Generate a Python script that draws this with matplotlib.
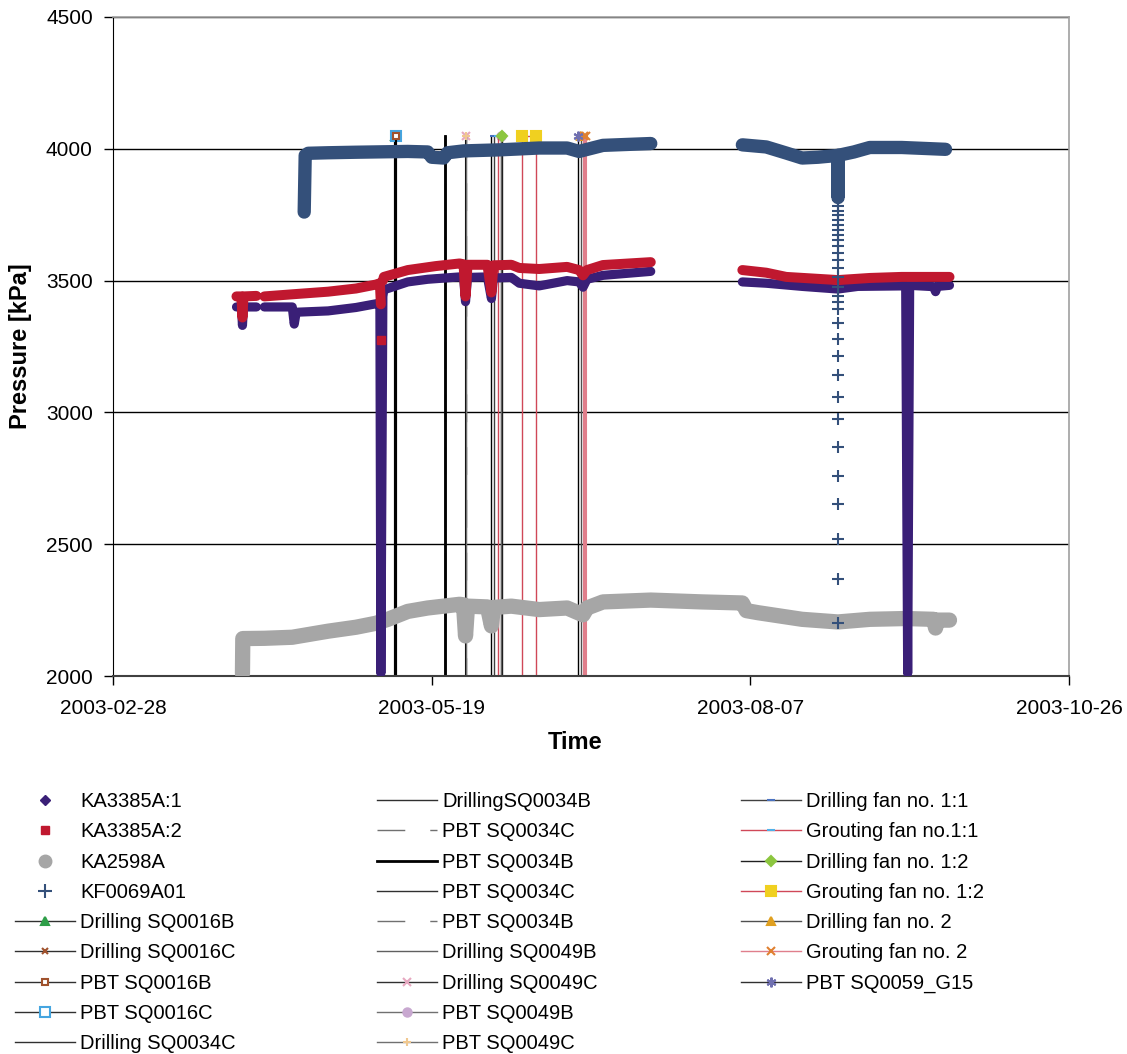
import numpy as np
import pandas as pd
import matplotlib
matplotlib.use("Agg")
import matplotlib.pyplot as plt
import matplotlib.dates as mdates
from matplotlib.lines import Line2D

plt.rcParams['font.family'] = ['Liberation Sans', 'DejaVu Sans']

nan = np.nan

# =========================
# Pressure series (kPa)
# =========================
ka1_time = ['2003-03-31', '2003-04-01 06:00', '2003-04-01 12:00', '2003-04-01 18:00', '2003-04-05', '2003-04-06',
            '2003-04-07', '2003-04-14', '2003-04-14 12:00', '2003-04-15', '2003-04-23', '2003-04-30',
            '2003-05-05', '2003-05-06', '2003-05-06 06:00', '2003-05-06 18:00', '2003-05-07', '2003-05-13',
            '2003-05-18', '2003-05-26', '2003-05-27', '2003-05-27 12:00', '2003-05-28', '2003-06-02',
            '2003-06-03', '2003-06-03 12:00', '2003-06-08', '2003-06-10', '2003-06-15', '2003-06-22',
            '2003-06-25', '2003-06-26', '2003-06-27', '2003-07-01', '2003-07-13', '2003-07-20',
            '2003-08-05', '2003-08-11', '2003-08-20', '2003-08-29', '2003-09-03', '2003-09-15',
            '2003-09-15 12:00', '2003-09-16', '2003-09-22', '2003-09-22 12:00', '2003-09-23', '2003-09-26']
ka1_kpa = [3400, 3400, 3330, 3400, 3400, nan,
           3400, 3400, 3335, 3380, 3385, 3398,
           3412, 3415, 2010, 3440, 3465, 3495,
           3505, 3514, 3514, 3420, 3512, 3514,
           3432, 3510, 3512, 3490, 3480, 3500,
           3495, 3475, 3505, 3520, 3535, nan,
           3495, 3490, 3478, 3468, 3478, 3480,
           2010, 3482, 3477, 3458, 3478, 3482]

ka2_time = ['2003-03-31', '2003-04-01 06:00', '2003-04-01 12:00', '2003-04-01 18:00', '2003-04-05', '2003-04-06',
            '2003-04-07', '2003-04-14', '2003-04-23', '2003-04-30', '2003-05-05', '2003-05-06',
            '2003-05-06 06:00', '2003-05-06 07:00', '2003-05-06 08:00', '2003-05-06 09:00', '2003-05-06 18:00',
            '2003-05-07', '2003-05-13', '2003-05-20', '2003-05-26', '2003-05-27', '2003-05-27 12:00',
            '2003-05-28', '2003-06-02', '2003-06-03', '2003-06-03 12:00', '2003-06-08', '2003-06-10',
            '2003-06-15', '2003-06-22', '2003-06-25', '2003-06-26', '2003-06-27', '2003-07-01',
            '2003-07-13', '2003-07-20',
            '2003-08-05', '2003-08-11', '2003-08-16', '2003-08-29', '2003-09-06', '2003-09-14', '2003-09-26']
ka2_kpa = [3440, 3440, 3360, 3440, 3442, nan,
           3440, 3448, 3458, 3470, 3485, 3490,
           3410, nan, 3275, nan, 3500,
           3514, 3540, 3555, 3565, 3562, 3440,
           3560, 3560, 3455, 3558, 3560, 3548,
           3544, 3552, 3540, 3520, 3540, 3559,
           3570, nan,
           3540, 3530, 3514, 3502, 3510, 3514, 3514]

ka2598_time = ['2003-04-01 12:00', '2003-04-01 14:00', '2003-04-07', '2003-04-14', '2003-04-23', '2003-04-30',
               '2003-05-05', '2003-05-08', '2003-05-13', '2003-05-18', '2003-05-26', '2003-05-27',
               '2003-05-27 12:00', '2003-05-28', '2003-06-02', '2003-06-03', '2003-06-03 12:00', '2003-06-08',
               '2003-06-15', '2003-06-22', '2003-06-26', '2003-06-27', '2003-07-01', '2003-07-13',
               '2003-07-26', '2003-08-05', '2003-08-06', '2003-08-09', '2003-08-20', '2003-08-29',
               '2003-09-06', '2003-09-15', '2003-09-22', '2003-09-22 12:00', '2003-09-23', '2003-09-26']
ka2598_kpa = [2010, 2142, 2143, 2147, 2170, 2185,
              2200, 2215, 2245, 2258, 2272, 2270,
              2152, 2265, 2262, 2190, 2260, 2265,
              2252, 2258, 2232, 2258, 2281, 2288,
              2281, 2277, 2248, 2240, 2215, 2205,
              2215, 2218, 2215, 2182, 2212, 2212]

kf_time = ['2003-04-17', '2003-04-17 06:00', '2003-04-18', '2003-04-23', '2003-04-30', '2003-05-13',
           '2003-05-18', '2003-05-19', '2003-05-22', '2003-05-23', '2003-05-27', '2003-06-05',
           '2003-06-15', '2003-06-22', '2003-06-25', '2003-07-01', '2003-07-13', '2003-07-20',
           '2003-08-05', '2003-08-11', '2003-08-16', '2003-08-20', '2003-08-24', '2003-08-29',
           '2003-08-29 00:30', '2003-08-29 01:00', '2003-09-02', '2003-09-06', '2003-09-14', '2003-09-25']
kf_kpa = [3760, 3975, 3983, 3985, 3987, 3990,
          3988, 3968, 3965, 3985, 3992, 3996,
          4003, 4003, 3990, 4013, 4020, nan,
          4015, 4007, 3984, 3965, 3968, 3975,
          3815, 3975, 3988, 4005, 4005, 3998]

# scattered readings during the pressure drop on 2003-08-29
kf_drop_time = '2003-08-29'
kf_drop_kpa = [3806, 3783, 3764, 3748, 3730, 3711, 3692, 3673, 3654, 3631, 3605, 3578, 3548, 3514,
               3476, 3442, 3417, 3391, 3339, 3279, 3214, 3142, 3059, 2975, 2869, 2759, 2653, 2520,
               2368, 2201]

# =========================
# Activities (drawn as vertical markers)
# =========================
event_top = 4050
event_names = ['Drilling SQ0016B', 'Drilling SQ0016C', 'PBT SQ0016B', 'PBT SQ0016C', 'Drilling SQ0034C',
               'DrillingSQ0034B', 'PBT SQ0034C', 'PBT SQ0034B', 'PBT SQ0034C', 'PBT SQ0034B',
               'Drilling SQ0049B', 'Drilling SQ0049C', 'PBT SQ0049B', 'PBT SQ0049C',
               'Drilling fan no. 1:1', 'Grouting fan no.1:1', 'Drilling fan no. 1:2', 'Grouting fan no. 1:2',
               'Drilling fan no. 2', 'Grouting fan no. 2', 'PBT SQ0059_G15']
event_times = [['2003-05-09 18:00'], ['2003-05-09 18:00'], ['2003-05-10'], ['2003-05-10'], ['2003-05-22 08:00'],
               ['2003-05-22 08:00'], ['2003-05-22 08:00'], ['2003-05-22 08:00'], ['2003-06-02 21:00'],
               ['2003-05-27 14:00'],
               ['2003-06-05 08:00'], ['2003-05-27 14:00'], ['2003-06-05 12:00'], ['2003-05-27 14:00'],
               ['2003-06-03 15:00'], ['2003-06-04 15:00'], ['2003-06-05 17:00'],
               ['2003-06-10 17:00', '2003-06-14 05:00'],
               ['2003-06-25 12:00'], ['2003-06-26 05:00', '2003-06-26 20:00'], ['2003-06-24 17:00']]

# line colour, width, style, marker, marker edge, marker face, marker size, z-order
event_styles = [
    ('#000000', 1.5, '-', '^', '#2e9e48', '#2e9e48', 6, 2.0),
    ('#000000', 1.5, '-', 'x', '#a0522d', '#a0522d', 5, 2.0),
    ('#000000', 1.5, '-', 's', '#a0522d', 'white', 4, 2.2),
    ('#000000', 1.5, '-', 's', '#45a5e0', 'white', 6.5, 2.1),
    ('#000000', 1.0, '-', 'None', 'k', 'k', 0, 2.0),
    ('#000000', 1.0, '-', 'None', 'k', 'k', 0, 2.0),
    ('#707070', 1.0, (0, (20, 18)), 'None', 'k', 'k', 0, 1.9),
    ('#000000', 2.0, '-', 'None', 'k', 'k', 0, 2.0),
    ('#000000', 1.0, '-', 'None', 'k', 'k', 0, 2.0),
    ('#707070', 1.0, (0, (20, 18)), 'None', 'k', 'k', 0, 1.9),
    ('#606060', 1.0, '-', 'None', 'k', 'k', 0, 2.0),
    ('#000000', 1.5, '-', 'x', '#e6a8c0', '#e6a8c0', 6, 2.0),
    ('#707070', 1.0, '-', 'o', '#c8a8d0', '#c8a8d0', 6, 2.0),
    ('#707070', 1.0, '-', '+', '#f0c890', '#f0c890', 6, 2.0),
    ('#404040', 1.0, '-', '_', '#4a72c0', '#4a72c0', 6, 2.0),
    ('#d04858', 1.0, '-', '_', '#50b0e8', '#50b0e8', 6, 2.0),
    ('#202020', 1.0, '-', 'D', '#8cc63f', '#8cc63f', 5.5, 2.0),
    ('#d04858', 1.0, '-', 's', '#f0d020', '#f0d020', 6.5, 2.0),
    ('#505050', 1.0, '-', '^', '#e0a020', '#e0a020', 6, 2.0),
    ('#e07f8c', 1.5, '-', 'x', '#e08030', '#e08030', 6, 2.0),
    ('#000000', 1.0, '-', (6, 2, 0), '#7070b0', '#7070b0', 7, 2.0),
]


def t(values):
    return pd.to_datetime(values, format='ISO8601')


# =========================
# Figure
# =========================
fig = plt.figure(figsize=(11.27, 10.54), dpi=100)
ax = fig.add_axes([113 / 1127, 1 - 676 / 1054, 956 / 1127, 659 / 1054])

band = dict(solid_capstyle='round', solid_joinstyle='round')
ax.plot(t(ka2598_time), ka2598_kpa, color='#a6a6a6', lw=11, zorder=3, **band)
ax.plot(t(ka1_time), ka1_kpa, color='#3a1f77', lw=6.6, zorder=4, **band)
ax.plot(t(ka2_time), ka2_kpa, color='#c0182f', lw=7.2, marker='s', ms=6, markevery=[14],
        zorder=5, **band)
ax.plot(t(kf_time), kf_kpa, color='#34507a', lw=9.6, zorder=6, **band)
ax.plot(t([kf_drop_time] * len(kf_drop_kpa)), kf_drop_kpa, ls='none', color='#34507a',
        marker='+', ms=8.5, mew=1.5, zorder=6)

event_lines = []
for name, times, st in zip(event_names, event_times, event_styles):
    lc, lw, ls, mk, mec, mfc, ms, z = st
    if len(times) == 1:
        xs = [times[0], times[0]]
        ys = [0, event_top]
    else:
        xs = [times[0], times[0], times[1], times[1]]
        ys = [0, event_top, event_top, 0]
    ln, = ax.plot(t(xs), ys, color=lc, lw=lw, ls=ls, marker=mk, mec=mec, mfc=mfc,
                  ms=ms, mew=1.5, label=name, zorder=z)
    event_lines.append(ln)

# axes
ax.set_xlim(t(['2003-02-28'])[0], t(['2003-10-26'])[0])
ax.set_ylim(2000, 4500)
ax.set_yticks(np.arange(2000, 4501, 500))
ax.set_xticks(t(['2003-02-28', '2003-05-19', '2003-08-07', '2003-10-26']))
ax.xaxis.set_major_formatter(mdates.DateFormatter('%Y-%m-%d'))
ax.tick_params(axis='both', direction='out', length=6.5, width=1, labelsize=15, colors='black')
ax.tick_params(axis='y', pad=8)
ax.tick_params(axis='x', pad=10)
ax.yaxis.grid(True, color='black', lw=1)
ax.set_axisbelow(True)

ax.spines['left'].set_color('black')
ax.spines['bottom'].set_color('#404040')
ax.spines['bottom'].set_linewidth(1.5)
for s in ['top', 'right']:
    ax.spines[s].set_color('#a0a0a0')
    ax.spines[s].set_linewidth(1.2)

ax.set_ylabel('Pressure [kPa]', fontsize=17, fontweight='bold')
ax.yaxis.set_label_coords(-0.085, 0.5)
ax.set_xlabel('Time', fontsize=17, fontweight='bold')
ax.xaxis.set_label_coords(0.483, -0.083)

# legend, three columns
data_handles = [
    Line2D([], [], ls='none', marker='D', color='#3a1f77', ms=5),
    Line2D([], [], ls='none', marker='s', color='#c0182f', ms=6),
    Line2D([], [], ls='none', marker='o', color='#a6a6a6', ms=9),
    Line2D([], [], ls='none', marker='+', color='#34507a', ms=10, mew=1.5),
]
data_labels = ['KA3385A:1', 'KA3385A:2', 'KA2598A', 'KF0069A01']

handles = data_handles + event_lines
labels = data_labels + event_names
cols = [(0, 9, 15), (9, 18, 377), (18, 25, 741)]
for a, b, x0 in cols:
    leg = fig.legend(handles[a:b], labels[a:b], loc='upper left',
                     bbox_to_anchor=(x0 / 1127, 1 - 792 / 1054), frameon=False,
                     fontsize=14.5, handlelength=3.0, handletextpad=0.25,
                     labelspacing=0.56, borderpad=0, borderaxespad=0)
    # thin legend lines, only the heavy PBT line stays bold
    for line in leg.get_lines():
        if line.get_linewidth() < 2.0:
            line.set_linewidth(1.0)
            if line.get_color() == '#000000':
                line.set_color('#303030')

fig.savefig('out.png', dpi=100)
